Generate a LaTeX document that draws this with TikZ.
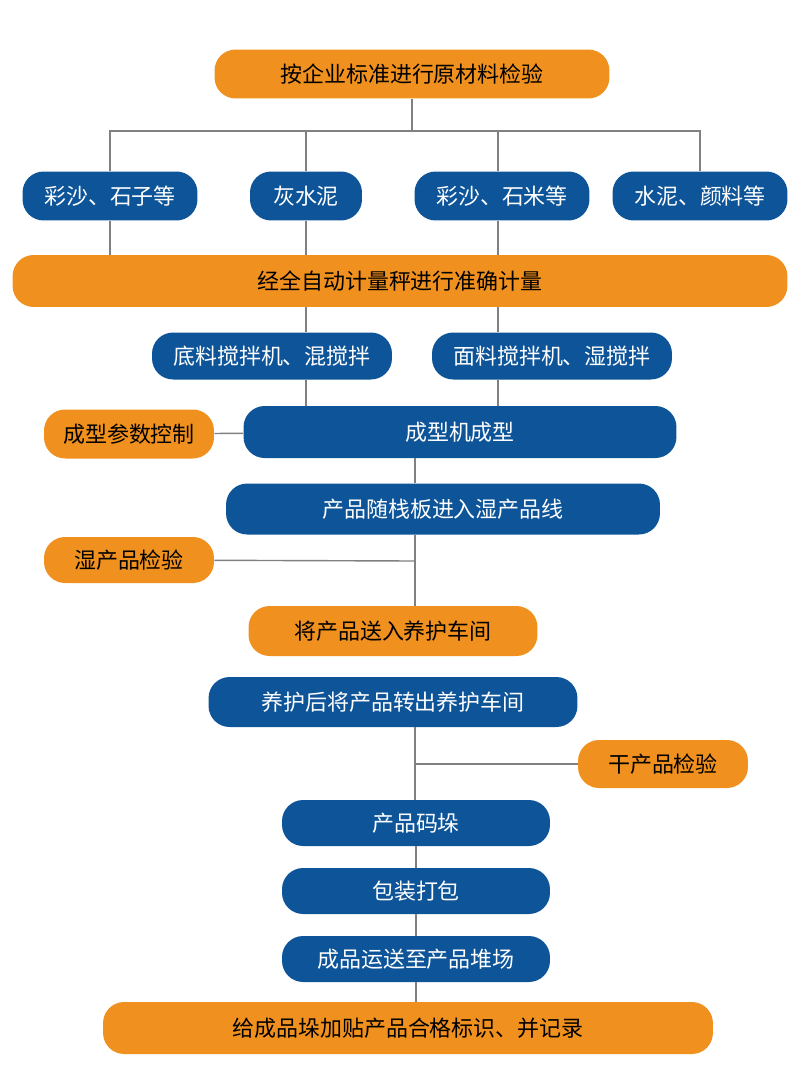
\documentclass[tikz,border=0pt]{standalone}
\usepackage{fontspec}
\newfontfamily\cjk{Noto Sans CJK SC}
\definecolor{org}{HTML}{F0901E}
\definecolor{blu}{HTML}{0D5499}
\tikzset{
	box/.style={rounded corners=12pt,minimum height=0.98cm,inner sep=0pt,font=\cjk\fontsize{12.5}{14}\selectfont},
	obox/.style={box,fill=org,text=black},
	bbox/.style={box,fill=blu,text=white},
	ln/.style={draw=gray,line width=0.8pt},
}
\begin{document}
\begin{tikzpicture}[x=0.02cm,y=-0.02cm]
	\useasboundingbox (0,0) rectangle (800,1082);
	
	\node[obox,minimum width=7.9cm] (top) at (412,74) {按企业标准进行原材料检验};
	\node[bbox,minimum width=3.5cm] (a1) at (110,196) {彩沙、石子等};
	\node[bbox,minimum width=2.24cm] (a2) at (306,196) {灰水泥};
	\node[bbox,minimum width=3.5cm] (a3) at (502,196) {彩沙、石米等};
	\node[bbox,minimum width=3.5cm] (a4) at (700,196) {水泥、颜料等};
	\node[obox,minimum width=15.5cm,minimum height=1.04cm] (weigh) at (400,281) {经全自动计量秤进行准确计量};
	\node[bbox,minimum width=4.8cm,minimum height=0.94cm] (mix1) at (272,356) {底料搅拌机、混搅拌};
	\node[bbox,minimum width=4.8cm,minimum height=0.94cm] (mix2) at (552,356) {面料搅拌机、湿搅拌};
	\node[obox,minimum width=3.4cm] (ctrl) at (129,434) {成型参数控制};
	\node[bbox,minimum width=8.66cm,minimum height=1.04cm] (form) at (460,432) {成型机成型};
	\node[bbox,minimum width=8.68cm,minimum height=1.02cm] (wet) at (443,509) {产品随栈板进入湿产品线};
	\node[obox,minimum width=3.4cm,minimum height=0.92cm] (wchk) at (129,560) {湿产品检验};
	\node[obox,minimum width=5.78cm,minimum height=1cm] (cure) at (393,631) {将产品送入养护车间};
	\node[bbox,minimum width=7.38cm,minimum height=1cm] (out) at (393,702) {养护后将产品转出养护车间};
	\node[obox,minimum width=3.4cm,minimum height=0.96cm] (dchk) at (663,764) {干产品检验};
	\node[bbox,minimum width=5.36cm,minimum height=0.92cm] (stack) at (416,823) {产品码垛};
	\node[bbox,minimum width=5.36cm,minimum height=0.92cm] (pack) at (416,891) {包装打包};
	\node[bbox,minimum width=5.36cm,minimum height=0.92cm] (ship) at (416,959) {成品运送至产品堆场};
	\node[obox,minimum width=12.2cm,minimum height=1.04cm] (tag) at (408,1028) {给成品垛加贴产品合格标识、并记录};
	
	\coordinate (bus) at (412,131);
	\coordinate (j1) at (306,356);
	\coordinate (j2) at (498,356);
	\coordinate (m1) at (415,561);
	\coordinate (m2) at (415,764);
	
	\draw[ln] (top) -- (bus);
	\foreach \n in {a1,a2,a4}{
		\draw[ln] (\n.north) |- (bus);
	}
	\draw[ln] (bus-|j2) -- (j2|-a3.north);
	\foreach \n in {a1,a2}{
		\draw[ln] (\n.south) -- (\n.south|-weigh.north);
	}
	\draw[ln] (j2|-a3.south) -- (j2|-weigh.north);
	\draw[ln] (j1|-weigh.south) -- (j1|-mix1.north);
	\draw[ln] (j2|-weigh.south) -- (j2|-mix2.north);
	\draw[ln] (j1|-mix1.south) -- (j1|-form.north);
	\draw[ln] (j2|-mix2.south) -- (j2|-form.north);
	\draw[ln] (ctrl) -- (form);
	\draw[ln] (m1|-form.south) -- (m1|-wet.north);
	\draw[ln] (m1|-wet.south) -- (m1|-cure.north);
	\draw[ln] (wchk) -- (m1);
	\draw[ln] (m1|-out.south) -- (m1|-stack.north);
	\draw[ln] (dchk) -- (m2);
	\draw[ln] (stack) -- (pack);
	\draw[ln] (pack) -- (ship);
	\draw[ln] (ship) -- (ship|-tag.north);
\end{tikzpicture}
\end{document}
